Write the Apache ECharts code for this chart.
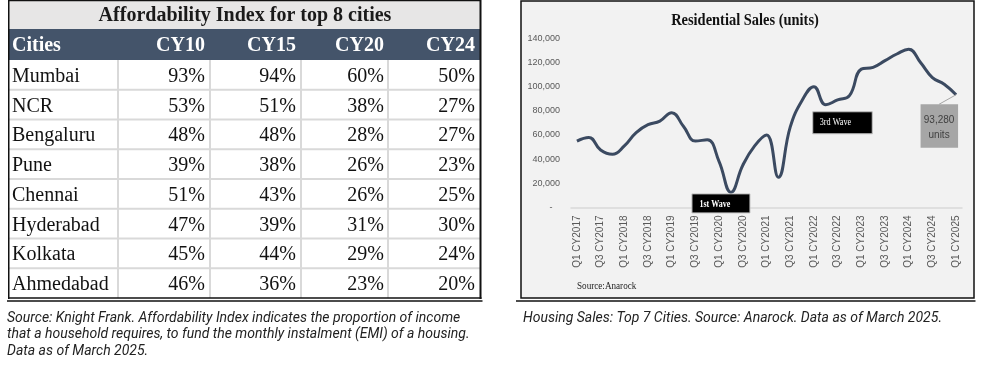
<!DOCTYPE html>
<html><head><meta charset="utf-8">
<script src="https://cdn.jsdelivr.net/npm/echarts@6/dist/echarts.min.js"></script>
<style>html,body{margin:0;padding:0;background:#fff}#c{width:982px;height:372px}</style>
</head><body><div id="c"></div>
<script>
// ---- Table data ----
const tableTitle = 'Affordability Index for top 8 cities';
const tableHeaders = ['Cities', 'CY10', 'CY15', 'CY20', 'CY24'];
const cities = ['Mumbai', 'NCR', 'Bengaluru', 'Pune', 'Chennai', 'Hyderabad', 'Kolkata', 'Ahmedabad'];
const cy10 = [93, 53, 48, 39, 51, 47, 45, 46];
const cy15 = [94, 51, 48, 38, 43, 39, 44, 36];
const cy20 = [60, 38, 28, 26, 26, 31, 29, 23];
const cy24 = [50, 27, 27, 23, 25, 30, 24, 20];
const tableCaption = [
  'Source: Knight Frank. Affordability Index indicates the proportion of income',
  'that a household requires, to fund the monthly instalment (EMI) of a housing.',
  'Data as of March 2025.'
];

// ---- Line chart data ----
const chartTitle = 'Residential Sales (units)';
const quarters = [
  'Q1 CY2017','Q2 CY2017','Q3 CY2017','Q4 CY2017',
  'Q1 CY2018','Q2 CY2018','Q3 CY2018','Q4 CY2018',
  'Q1 CY2019','Q2 CY2019','Q3 CY2019','Q4 CY2019',
  'Q1 CY2020','Q2 CY2020','Q3 CY2020','Q4 CY2020',
  'Q1 CY2021','Q2 CY2021','Q3 CY2021','Q4 CY2021',
  'Q1 CY2022','Q2 CY2022','Q3 CY2022','Q4 CY2022',
  'Q1 CY2023','Q2 CY2023','Q3 CY2023','Q4 CY2023',
  'Q1 CY2024','Q2 CY2024','Q3 CY2024','Q4 CY2024',
  'Q1 CY2025'
];
const sales = [
  55000, 58000, 47500, 44000,
  51000, 62000, 68500, 71500,
  78500, 67000, 55000, 56000,
  38000, 12500, 35000, 51000,
  60000, 25000, 66500, 88500,
  100000, 85000, 89000, 92500,
  114500, 116000, 121500, 127000,
  131000, 120000, 107500, 102000,
  93280
];
const yMax = 140000;
const yStep = 20000;
const chartSource = 'Source:Anarock';
const chartCaption = 'Housing Sales: Top 7 Cities. Source: Anarock. Data as of March 2025.';
const annotations = [
  { index: 13, text: '1st Wave' },
  { index: 21, text: '3rd Wave' },
  { index: 32, text: '93,280\nunits' }
];

const SERIF = "'Liberation Serif', 'Times New Roman', serif";
const SANS = "'Liberation Sans', Arial, sans-serif";
const ROBOTO = "Roboto, 'Liberation Sans', sans-serif";

const chart = echarts.init(document.getElementById('c'), null, { renderer: 'canvas' });

function fmt(v) {
  if (v === 0) return '-   ';
  return v.toLocaleString('en-US');
}

chart.setOption({
  animation: false,
  backgroundColor: '#ffffff',
  grid: { left: 571, right: 20, top: 38.3, bottom: 164.5, containLabel: false },
  xAxis: {
    type: 'category',
    data: quarters,
    boundaryGap: true,
    axisLine: { lineStyle: { color: '#d9d9d9', width: 1.5 } },
    axisTick: { show: false },
    axisLabel: { interval: 1, rotate: 90, color: '#595959', fontSize: 10, fontFamily: SANS, margin: 8 }
  },
  yAxis: {
    type: 'value',
    min: 0, max: yMax, interval: yStep,
    splitLine: { show: false },
    axisLine: { show: false },
    axisTick: { show: false },
    axisLabel: { color: '#595959', fontSize: 9, fontFamily: SANS, margin: 11, formatter: fmt }
  },
  series: [{
    type: 'line',
    data: sales,
    smooth: 0.45,
    symbol: 'none',
    lineStyle: { color: '#3b4a61', width: 3 },
    z: 5
  }]
});

function txt(text, x, y, font, fill, align, extra) {
  return Object.assign({
    type: 'text', x: x, y: y,
    style: { text: text, x: 0, y: 0, font: font, fill: fill,
      align: align || 'left', textAlign: align || 'left',
      verticalAlign: 'middle', textVerticalAlign: 'middle' }
  }, extra || {});
}
function line(x1, y1, x2, y2, stroke, w, extra) {
  return Object.assign({ type: 'line', shape: { x1: x1, y1: y1, x2: x2, y2: y2 }, style: { stroke: stroke, lineWidth: w } }, extra || {});
}

const g = [];
// ---- Table ----
const tL = 9, tR = 481, headTop = 29, bodyTop = 60, rowH = 29.75;
const colLines = [118, 210, 301, 388];
const valRight = [205, 296, 384, 475];
g.push({ type: 'rect', shape: { x: tL, y: 1, width: tR - tL, height: headTop - 1 }, style: { fill: '#e7e6e6' } });
g.push({ type: 'rect', shape: { x: tL, y: headTop, width: tR - tL, height: bodyTop - headTop }, style: { fill: '#44546a' } });
for (let k = 1; k < cities.length; k++) {
  g.push(line(tL, bodyTop + rowH * k, tR - 1, bodyTop + rowH * k, '#d9d9d9', 2));
}
colLines.forEach(function (x) { g.push(line(x, bodyTop, x, bodyTop + rowH * cities.length, '#d9d9d9', 2)); });
// borders
g.push(line(8.75, 0, 8.75, 299, '#111', 1.5));
g.push(line(480.5, 0, 480.5, 299, '#111', 2));
g.push(line(8, 0.6, 481, 0.6, '#111', 1.2));
g.push(line(8, 298, 481.5, 298, '#111', 1.5));
g.push(line(7, 301, 482.5, 301, '#111', 1.5));
// title & header text
g.push(txt(tableTitle, 245, 16, 'bold 20px ' + SERIF, '#1a1a1a', 'center'));
g.push(txt(tableHeaders[0], 12, 46, 'bold 20px ' + SERIF, '#ffffff', 'left'));
for (let c = 1; c < tableHeaders.length; c++) {
  g.push(txt(tableHeaders[c], valRight[c - 1], 46, 'bold 20px ' + SERIF, '#ffffff', 'right'));
}
const cols = [cy10, cy15, cy20, cy24];
cities.forEach(function (name, r) {
  const y = bodyTop + rowH * r + 16.5;
  g.push(txt(name, 12, y, '20px ' + SERIF, '#111', 'left'));
  cols.forEach(function (arr, c) {
    g.push(txt(arr[r] + '%', valRight[c], y, '20px ' + SERIF, '#111', 'right'));
  });
});
tableCaption.forEach(function (s, i) {
  g.push(txt(s, 7, 318 + i * 16.7, 'italic 14px ' + ROBOTO, '#222', 'left'));
});

// ---- Chart panel ----
g.push({ type: 'rect', z: -10, shape: { x: 521, y: 1, width: 453, height: 297 }, style: { fill: '#f2f2f2', stroke: '#111', lineWidth: 1.5 } });
g.push(line(516, 301, 975.5, 301, '#111', 1.5, { z: -10 }));
g.push(txt(chartTitle, 745, 21, 'bold 17px ' + SERIF, '#111', 'center', { scaleX: 0.85 }));
g.push(txt(chartSource, 577, 286, '11px ' + SERIF, '#222', 'left', { scaleX: 0.83 }));
g.push(txt(chartCaption, 523, 318, 'italic 14px ' + ROBOTO, '#222', 'left'));

// ---- Annotations anchored on data points ----
const p1 = chart.convertToPixel({ gridIndex: 0 }, [annotations[0].index, sales[annotations[0].index]]);
g.push({ type: 'rect', z: 50, shape: { x: p1[0] - 39, y: p1[1] + 1.5, width: 58, height: 19 }, style: { fill: '#000', stroke: '#bfbfbf', lineWidth: 1 } });
g.push(txt(annotations[0].text, p1[0] - 31.5, p1[1] + 12.5, 'bold 10px ' + SERIF, '#fff', 'left', { scaleX: 0.8, z: 51 }));

const p2 = chart.convertToPixel({ gridIndex: 0 }, [annotations[1].index, sales[annotations[1].index]]);
g.push({ type: 'rect', z: 50, shape: { x: p2[0] - 13, y: p2[1] + 7, width: 59.5, height: 22 }, style: { fill: '#000', stroke: '#bfbfbf', lineWidth: 1 } });
g.push(txt(annotations[1].text, p2[0] - 6, p2[1] + 18, '10px ' + SERIF, '#fff', 'left', { scaleX: 0.82, z: 51 }));

const p3 = chart.convertToPixel({ gridIndex: 0 }, [annotations[2].index, sales[annotations[2].index]]);
g.push(line(p3[0], p3[1], p3[0] - 17, p3[1] + 9.5, '#a6a6a6', 1, { z: 50 }));
g.push({ type: 'rect', z: 50, shape: { x: p3[0] - 35.5, y: p3[1] + 9.5, width: 37.5, height: 43.5 }, style: { fill: '#a6a6a6' } });
const lab = annotations[2].text.split('\n');
g.push(txt(lab[0], p3[0] - 17, p3[1] + 25, '10px ' + SANS, '#404040', 'center', { z: 51 }));
g.push(txt(lab[1], p3[0] - 17, p3[1] + 40, '10px ' + SANS, '#404040', 'center', { z: 51 }));

chart.setOption({ graphic: { elements: g } });
</script>
</body></html>
